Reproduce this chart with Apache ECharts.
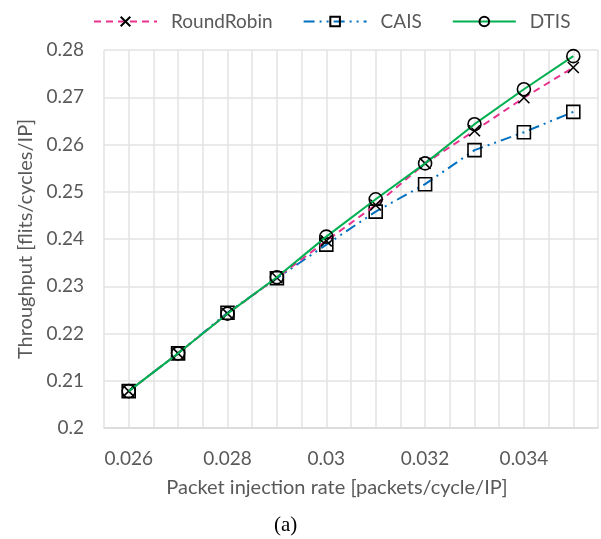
<!DOCTYPE html>
<html>
<head>
<meta charset="utf-8">
<script src="https://cdn.jsdelivr.net/npm/echarts@6/dist/echarts.min.js"></script>
<style>
html,body{margin:0;padding:0;background:#fff;}
#chart{width:601px;height:539px;}
</style>
</head>
<body>
<div id="chart"></div>
<script>
var injectionRates = [0.026, 0.027, 0.028, 0.029, 0.030, 0.031, 0.032, 0.033, 0.034, 0.035];
var roundRobin = [0.2078, 0.2158, 0.2242, 0.2318, 0.2396, 0.2472, 0.2560, 0.2629, 0.2699, 0.2763];
var cais       = [0.2078, 0.2158, 0.2244, 0.2317, 0.2388, 0.2458, 0.2516, 0.2588, 0.2626, 0.2669];
var dtis       = [0.2078, 0.2158, 0.2242, 0.2319, 0.2405, 0.2484, 0.2560, 0.2643, 0.2717, 0.2787];
var seriesNames = ['RoundRobin', 'CAIS', 'DTIS'];

function pairs(vals){ return injectionRates.map(function(x,i){ return [x, vals[i]]; }); }

var chart = echarts.init(document.getElementById('chart'), null, {renderer:'canvas'});
var txt = '#595959';
var font = 'Lato';
var markerStyle = {color:'rgba(0,0,0,0)', borderColor:'#000', borderWidth:1.6};

chart.setOption({
  animation:false,
  backgroundColor:'#fff',
  textStyle:{fontFamily:font},
  legend:{
    top:7, left:88, itemGap:30, itemWidth:63, itemHeight:12,
    textStyle:{color:txt, fontSize:19, fontFamily:font, padding:[0,0,0,9]},
    data:seriesNames
  },
  grid:{left:104, right:1, top:50, bottom:111, containLabel:false},
  xAxis:{
    type:'value', min:0.0255, max:0.0355, interval:0.0005,
    name:'Packet injection rate [packets/cycle/IP]', nameLocation:'middle', nameGap:50,
    nameTextStyle:{color:txt, fontSize:20, fontFamily:font, padding:[0,28,0,0]},
    axisLine:{show:true, lineStyle:{color:'#d9d9d9', width:1.5}},
    axisTick:{show:false},
    splitLine:{show:true, lineStyle:{color:'#e3e3e3', width:1.5}},
    axisLabel:{
      color:txt, fontSize:19, fontFamily:font, margin:21, showMinLabel:true, showMaxLabel:true,
      formatter:function(v){ var k=Math.round(v*10000); return (k%20===0)? String(k/10000) : ''; }
    }
  },
  yAxis:{
    type:'value', min:0.2, max:0.28, interval:0.01,
    name:'Throughput [flits/cycles/IP]', nameLocation:'middle', nameGap:64,
    nameTextStyle:{color:txt, fontSize:20, fontFamily:font},
    axisLine:{show:false}, axisTick:{show:false},
    splitLine:{show:true, lineStyle:{color:'#e3e3e3', width:1.5}},
    axisLabel:{color:txt, fontSize:19, fontFamily:font, margin:20,
      formatter:function(v){ return String(Math.round(v*100)/100); }}
  },
  series:[
    {name:'RoundRobin', type:'line', data:pairs(roundRobin), z:3,
     symbol:'path://M0,0L10,10M10,0L0,10', symbolSize:11, showSymbol:true,
     lineStyle:{color:'#E8338F', width:2, type:[7,5]},
     itemStyle:{color:'#000', borderColor:'#000', borderWidth:1.6}},
    {name:'CAIS', type:'line', data:pairs(cais), z:2,
     symbol:'rect', symbolSize:13,
     lineStyle:{color:'#0070C0', width:2, type:[11,5,2,5,2,5]},
     itemStyle:markerStyle},
    {name:'DTIS', type:'line', data:pairs(dtis), z:4,
     symbol:'circle', symbolSize:13,
     lineStyle:{color:'#00B050', width:2, type:'solid'},
     itemStyle:markerStyle}
  ],
  graphic:[{type:'text', left:274, top:515,
    style:{text:'(a)', fill:'#000', font:'21px "Liberation Serif"'}}]
});
</script>
</body>
</html>
